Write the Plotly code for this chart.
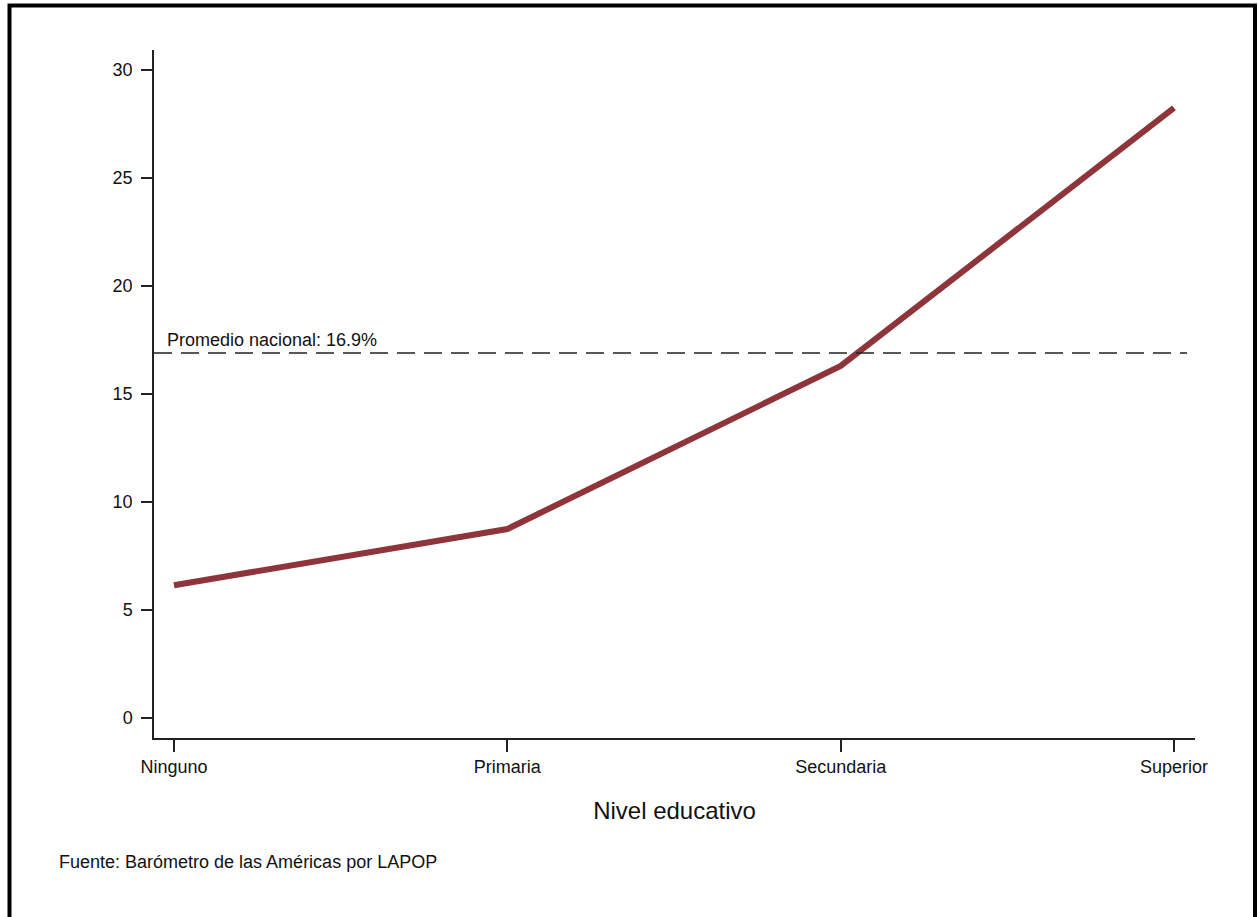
import plotly.graph_objects as go

categories = ["Ninguno", "Primaria", "Secundaria", "Superior"]
values = [6.15, 8.75, 16.3, 28.25]
national_avg = 16.9
y_ticks = [0, 5, 10, 15, 20, 25, 30]
x_title = "Nivel educativo"
avg_label = "Promedio nacional: 16.9%"
source_text = "Fuente: Barómetro de las Américas por LAPOP"

W, H = 1258, 917
L, R, T, B = 154, 1195, 50, 738  # plot area pixel bounds

def px_x(px):
    return (px - L) / (R - L)

def px_y(py):
    return (B - py) / (B - T)

FONT = "Liberation Sans, Arial, sans-serif"

fig = go.Figure()
fig.add_trace(go.Scatter(
    x=categories, y=values, mode="lines",
    line=dict(color="#8E343A", width=6),
    hoverinfo="skip", showlegend=False,
))

fig.update_layout(
    width=W, height=H,
    margin=dict(l=L, r=W - R, t=T, b=H - B, pad=0),
    paper_bgcolor="white", plot_bgcolor="white",
    font=dict(family=FONT, size=18, color="#111111"),
    xaxis=dict(
        type="category", range=[-0.06, 3.063],
        showline=True, linecolor="#222222", linewidth=1.5,
        ticks="outside", ticklen=12, tickwidth=1.5, tickcolor="#222222",
        showgrid=False, zeroline=False,
        tickfont=dict(size=18),
        title=dict(text=x_title, font=dict(size=24), standoff=26),
    ),
    yaxis=dict(
        range=[-0.926, 30.93], tickvals=y_ticks,
        showline=True, linecolor="#222222", linewidth=1.5,
        ticks="outside", ticklen=11, tickwidth=1.5, tickcolor="#222222",
        showgrid=False, zeroline=False,
        tickfont=dict(size=18),
        ticklabelstandoff=5,
    ),
    shapes=[
        dict(type="line", xref="paper", yref="y",
             x0=0, x1=px_x(1187), y0=national_avg, y1=national_avg,
             line=dict(color="#222222", width=1.5, dash="18px,9px")),
        dict(type="rect", xref="paper", yref="paper",
             x0=px_x(9.5), x1=px_x(1255), y0=px_y(925), y1=px_y(5.5),
             line=dict(color="black", width=4), fillcolor="rgba(0,0,0,0)",
             layer="above"),
    ],
    annotations=[
        dict(text=avg_label, xref="paper", yref="y", x=px_x(165), y=national_avg,
             xanchor="left", yanchor="bottom", yshift=1, showarrow=False,
             font=dict(size=18)),
        dict(text=source_text, xref="paper", yref="paper", x=px_x(57), y=px_y(862),
             xanchor="left", yanchor="middle", showarrow=False,
             font=dict(size=18)),
    ],
)

fig.write_html("out.html", config={"displayModeBar": False},
               post_script="document.body.style.margin='0px';")
